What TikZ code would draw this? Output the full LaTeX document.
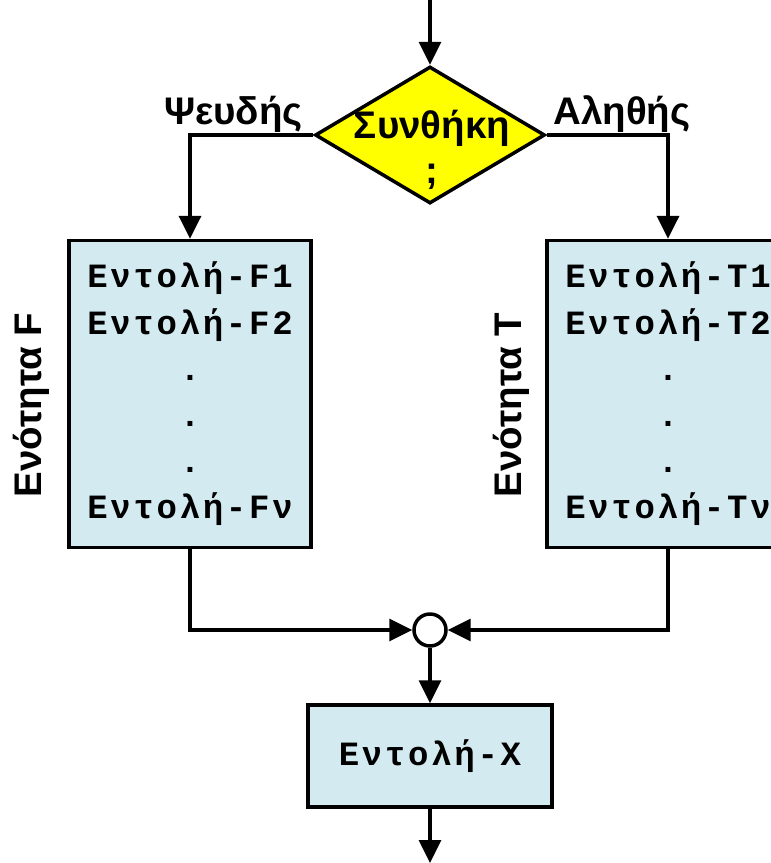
\documentclass[tikz,border=0pt]{standalone}
\usepackage{fontspec}
\setmainfont{Liberation Sans}
\setmonofont{Liberation Mono}[LetterSpace=8]
\usetikzlibrary{shapes.geometric, arrows.meta}

\definecolor{condyellow}{RGB}{255,255,0}
\definecolor{boxblue}{RGB}{210,234,240}

\tikzset{
	flow/.style={line width=0.7mm, -{Triangle[length=4.6mm,width=4.4mm]}},
	decision/.style={diamond, draw, line width=0.7mm, fill=condyellow, minimum width=4.6cm, minimum height=2.74cm, inner sep=0pt},
	stmtbox/.style={rectangle, draw, line width=0.7mm, fill=boxblue, inner sep=0pt, align=center,
		font=\ttfamily\bfseries\fontsize{19.35pt}{26.3pt}\selectfont},
	joint/.style={circle, draw, line width=0.7mm, fill=white, minimum size=0.64cm, inner sep=0pt},
	sanslabel/.style={font=\bfseries\fontsize{21.9pt}{25.5pt}\selectfont, inner sep=0pt},
	blocklabel/.style={sanslabel, rotate=90, anchor=mid}
}

\begin{document}
\begin{tikzpicture}[x=0.02cm, y=-0.02cm]
	\useasboundingbox (0,0) rectangle (771,863);
	
	% Condition and its two branches
	\coordinate (top) at (430,0);
	\node[decision] (cond) at (430,135) {};
	\node[sanslabel, align=center] (condtext) at (432,150) {Συνθήκη\\;};
	\node[sanslabel, anchor=base east] (nolab) at (303,124) {Ψευδής};
	\node[sanslabel, anchor=base west] (yeslab) at (553,124) {Αληθής};
	
	% The two blocks of statements
	\node[stmtbox, minimum width=4.84cm, minimum height=6.14cm] (boxF) at (190,394)
		{Εντολή-F1\\Εντολή-F2\\.\\.\\.\\Εντολή-Fν};
	\node[stmtbox, minimum width=4.84cm, minimum height=6.14cm] (boxT) at (668,394)
		{Εντολή-T1\\Εντολή-T2\\.\\.\\.\\Εντολή-Tν};
	\node[blocklabel] (labF) at (37,405) {Ενότητα F};
	\node[blocklabel] (labT) at (517,405) {Ενότητα T};
	
	% Joining point and the next statement
	\node[joint] (join) at (430,630) {};
	\node[stmtbox, minimum width=4.88cm, minimum height=2.04cm] (boxX) at (430,756) {Εντολή-X};
	\coordinate (bottom) at (430,863);
	
	% Connectors
	\draw[flow] (top) -- (cond.north);
	\draw[flow] (cond.west) -| (boxF.north);
	\draw[flow] (cond.east) -| (boxT.north);
	\draw[flow] (boxF.south) |- (join.west);
	\draw[flow] (boxT.south) |- (join.east);
	\draw[flow] (join.south) -- (boxX.north);
	\draw[flow] (boxX.south) -- (bottom);
\end{tikzpicture}
\end{document}
